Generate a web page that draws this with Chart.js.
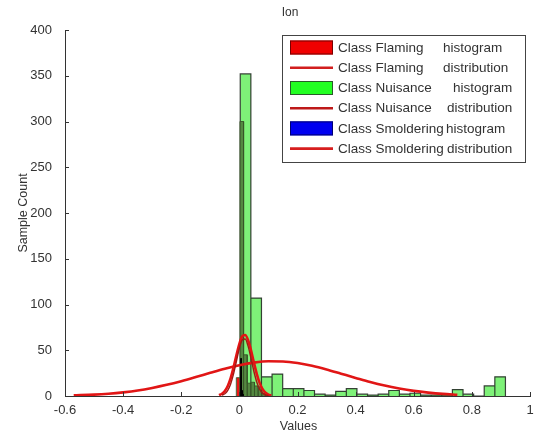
<!DOCTYPE html>
<html>
<head>
<meta charset="utf-8">
<script src="https://cdn.jsdelivr.net/npm/chart.js"></script>
<style>
  html, body { margin: 0; padding: 0; background: #fff; }
  #wrap { width: 539px; height: 441px; position: relative; }
</style>
</head>
<body>
<div id="wrap"><canvas id="c" width="539" height="441"></canvas></div>
<script>
// ---- data ----
const chartTitle = 'Ion';
const xAxisTitle = 'Values';
const yAxisTitle = 'Sample Count';

const xTickValues = [-0.6, -0.4, -0.2, 0, 0.2, 0.4, 0.6, 0.8, 1];
const yTickValues = [0, 50, 100, 150, 200, 250, 300, 350, 400];

// Class Nuisance histogram
const nuisanceBinEdges = [0.003, 0.0395, 0.076, 0.1125, 0.149, 0.1855, 0.222, 0.2585, 0.295, 0.3315, 0.368, 0.4045, 0.441,
  0.4775, 0.514, 0.5505, 0.587, 0.6235, 0.66, 0.6965, 0.733, 0.7695, 0.806, 0.8425, 0.879, 0.9155];
const nuisanceCounts = [352, 107, 21, 24, 8, 8, 6, 2, 1, 5, 8, 2, 1, 2, 6, 2, 3, 1, 1, 1, 7, 2, 0, 11, 21];

// Class Flaming histogram
const flamingBinEdges = [-0.0105, 0.002, 0.0145, 0.027, 0.0395, 0.052, 0.0645, 0.077, 0.0895];
const flamingCounts = [20, 300, 45, 14, 15, 11, 10, 3];

// Class Smoldering histogram
const smolderingBinEdges = [0.004, 0.007, 0.010, 0.013];
const smolderingCounts = [41, 6, 2];

// Distributions
const nuisanceDistX = [-0.57, -0.5, -0.45, -0.4, -0.35, -0.3, -0.25, -0.2, -0.15, -0.1, -0.05, 0, 0.05, 0.1, 0.15,
  0.2, 0.25, 0.3, 0.35, 0.4, 0.45, 0.5, 0.55, 0.6, 0.65, 0.7, 0.75];
const nuisanceDistY = [0.7, 1.5, 2.5, 4.0, 6.0, 8.8, 12.2, 16.2, 20.7, 25.4, 29.9, 33.7, 36.5, 37.9, 37.7,
  36.0, 33.0, 29.0, 24.4, 19.8, 15.3, 11.4, 8.2, 5.6, 3.7, 2.3, 1.4];

const flamingDistX = [-0.07, -0.06, -0.05, -0.04, -0.03, -0.02, -0.01, 0, 0.01, 0.02, 0.03, 0.04, 0.05, 0.06,
  0.07, 0.08, 0.09, 0.10, 0.11];
const flamingDistY = [1.0, 2.5, 5.5, 11.0, 19.6, 31.3, 44.7, 57.0, 65.2, 66.7, 61.0, 49.9, 36.6, 24.0,
  14.1, 7.4, 3.5, 1.5, 0.5];

const smolderingDistX = [-0.06, -0.05, -0.04, -0.03, -0.02, -0.01, 0, 0.01, 0.02, 0.03, 0.04, 0.05, 0.06,
  0.07, 0.08, 0.09, 0.10];
const smolderingDistY = [0.9, 2.5, 6.2, 13.2, 24.1, 38.2, 52.1, 61.3, 62.3, 54.5, 41.1, 26.8, 15.0,
  7.3, 3.0, 1.1, 0.3];

const legendLabels = [
  ['Class Flaming', 'histogram'],
  ['Class Flaming', 'distribution'],
  ['Class Nuisance', 'histogram'],
  ['Class Nuisance', 'distribution'],
  ['Class Smoldering', 'histogram'],
  ['Class Smoldering', 'distribution']
];

// ---- helpers ----
function histOutline(edges, counts) {
  const pts = [];
  for (let i = 0; i < counts.length; i++) {
    pts.push({x: edges[i], y: 0});
    pts.push({x: edges[i], y: counts[i]});
    pts.push({x: edges[i + 1], y: counts[i]});
    pts.push({x: edges[i + 1], y: 0});
  }
  return pts;
}
function curve(xs, ys) { return xs.map((x, i) => ({x: x, y: ys[i]})); }

const FONT = '"Liberation Sans", Arial, sans-serif';
const TEXT = '#333';

const histBase = { type: 'line', fill: 'origin', pointRadius: 0, tension: 0, borderJoinStyle: 'miter' };
const distBase = { type: 'line', fill: false, pointRadius: 0, cubicInterpolationMode: 'monotone' };

const datasets = [
  Object.assign({}, histBase, {
    label: 'Class Nuisance histogram', order: 6,
    data: histOutline(nuisanceBinEdges, nuisanceCounts),
    backgroundColor: 'rgba(20,230,10,0.55)', borderColor: 'rgba(35,45,35,0.9)', borderWidth: 1.2
  }),
  Object.assign({}, histBase, {
    label: 'Class Flaming histogram', order: 5,
    data: histOutline(flamingBinEdges, flamingCounts),
    backgroundColor: 'rgba(80,125,60,0.9)', borderColor: 'rgba(55,85,40,0.9)', borderWidth: 1,
    segment: {
      backgroundColor: ctx => (ctx.p1.parsed.x <= flamingBinEdges[1] ? 'rgba(235,10,10,0.95)' : undefined)
    }
  }),
  Object.assign({}, histBase, {
    label: 'Class Smoldering histogram', order: 4,
    data: histOutline(smolderingBinEdges, smolderingCounts),
    backgroundColor: 'rgba(10,10,40,0.9)', borderColor: 'rgba(0,0,0,0.9)', borderWidth: 1
  }),
  Object.assign({}, distBase, {
    label: 'Class Nuisance distribution', order: 3,
    data: curve(nuisanceDistX, nuisanceDistY),
    borderColor: 'rgb(225,22,22)', borderWidth: 2.6
  }),
  Object.assign({}, distBase, {
    label: 'Class Flaming distribution', order: 2,
    data: curve(flamingDistX, flamingDistY),
    borderColor: 'rgb(228,20,20)', borderWidth: 2.6
  }),
  Object.assign({}, distBase, {
    label: 'Class Smoldering distribution', order: 1,
    data: curve(smolderingDistX, smolderingDistY),
    borderColor: 'rgb(160,25,20)', borderWidth: 1.4
  })
];

const decorPlugin = {
  id: 'decor',
  afterDraw(chart) {
    const ctx = chart.ctx;
    const xs = chart.scales.x, ys = chart.scales.y;
    const area = chart.chartArea;
    ctx.save();
    // inward ticks
    ctx.strokeStyle = '#333';
    ctx.lineWidth = 1;
    ctx.beginPath();
    yTickValues.forEach(v => {
      const py = Math.round(ys.getPixelForValue(v)) + 0.5;
      ctx.moveTo(area.left, py); ctx.lineTo(area.left + 4, py);
    });
    xTickValues.forEach(v => {
      const px = Math.round(xs.getPixelForValue(v)) + 0.5;
      ctx.moveTo(px, area.bottom); ctx.lineTo(px, area.bottom - 4);
    });
    ctx.stroke();

    // titles
    ctx.fillStyle = TEXT;
    ctx.font = '12px ' + FONT;
    ctx.textAlign = 'center';
    ctx.textBaseline = 'middle';
    ctx.fillText(chartTitle, 290, 13);
    ctx.font = '12.5px ' + FONT;
    ctx.fillText(xAxisTitle, (area.left + area.right) / 2 + 1, 427);
    ctx.save();
    ctx.translate(24, 213);
    ctx.rotate(-Math.PI / 2);
    ctx.fillText(yAxisTitle, 0, 0);
    ctx.restore();

    // legend
    const bx = 282, by = 35, bw = 243, bh = 127;
    ctx.fillStyle = '#fff';
    ctx.fillRect(bx, by, bw, bh);
    ctx.strokeStyle = '#444';
    ctx.lineWidth = 1;
    ctx.strokeRect(bx + 0.5, by + 0.5, bw, bh);
    const rowY = [47.5, 67.7, 88, 108.2, 128.4, 148.6];
    const typeX = [443, 443, 453, 447, 446, 447];
    const swatch = [
      {kind: 'rect', fill: '#f00000', edge: '#700'},
      {kind: 'line', color: 'rgb(210,30,30)'},
      {kind: 'rect', fill: '#22ff22', edge: '#2a5a2a'},
      {kind: 'line', color: 'rgb(190,25,25)'},
      {kind: 'rect', fill: '#0000f0', edge: '#000070'},
      {kind: 'line', color: 'rgb(215,30,30)'}
    ];
    ctx.font = '13.5px ' + FONT;
    ctx.textAlign = 'left';
    ctx.textBaseline = 'middle';
    legendLabels.forEach((lab, i) => {
      const y = rowY[i];
      const s = swatch[i];
      if (s.kind === 'rect') {
        ctx.fillStyle = s.fill;
        ctx.fillRect(290, y - 7, 43, 14);
        ctx.strokeStyle = s.edge;
        ctx.lineWidth = 1;
        ctx.strokeRect(290.5, y - 6.5, 42, 13);
      } else {
        ctx.strokeStyle = s.color;
        ctx.lineWidth = 2.6;
        ctx.beginPath();
        ctx.moveTo(290, y); ctx.lineTo(333, y);
        ctx.stroke();
      }
      ctx.fillStyle = TEXT;
      ctx.fillText(lab[0], 338, y + 0.5);
      ctx.fillText(lab[1], typeX[i], y + 0.5);
    });
    ctx.restore();
  }
};

new Chart(document.getElementById('c'), {
  type: 'line',
  data: { datasets: datasets },
  options: {
    responsive: false,
    animation: false,
    devicePixelRatio: 1,
    layout: { padding: { top: 30, right: 9, left: 0, bottom: 0 } },
    plugins: { legend: { display: false }, tooltip: { enabled: false }, title: { display: false } },
    scales: {
      x: {
        type: 'linear', min: -0.6, max: 1,
        afterBuildTicks: s => { s.ticks = xTickValues.map(v => ({value: v})); },
        ticks: {
          font: { size: 13, family: FONT }, color: TEXT, padding: -1, maxRotation: 0, autoSkip: false,
          callback: v => String(Number(Number(v).toFixed(2)))
        },
        grid: { display: false },
        border: { display: true, color: '#333', width: 1 },
        afterFit: s => { s.height = 45; }
      },
      y: {
        type: 'linear', min: 0, max: 400,
        afterBuildTicks: s => { s.ticks = yTickValues.map(v => ({value: v})); },
        ticks: { font: { size: 13, family: FONT }, color: TEXT, padding: 5 },
        grid: { display: false },
        border: { display: true, color: '#333', width: 1 },
        afterFit: s => { s.width = 65; }
      }
    }
  },
  plugins: [decorPlugin]
});
</script>
</body>
</html>
